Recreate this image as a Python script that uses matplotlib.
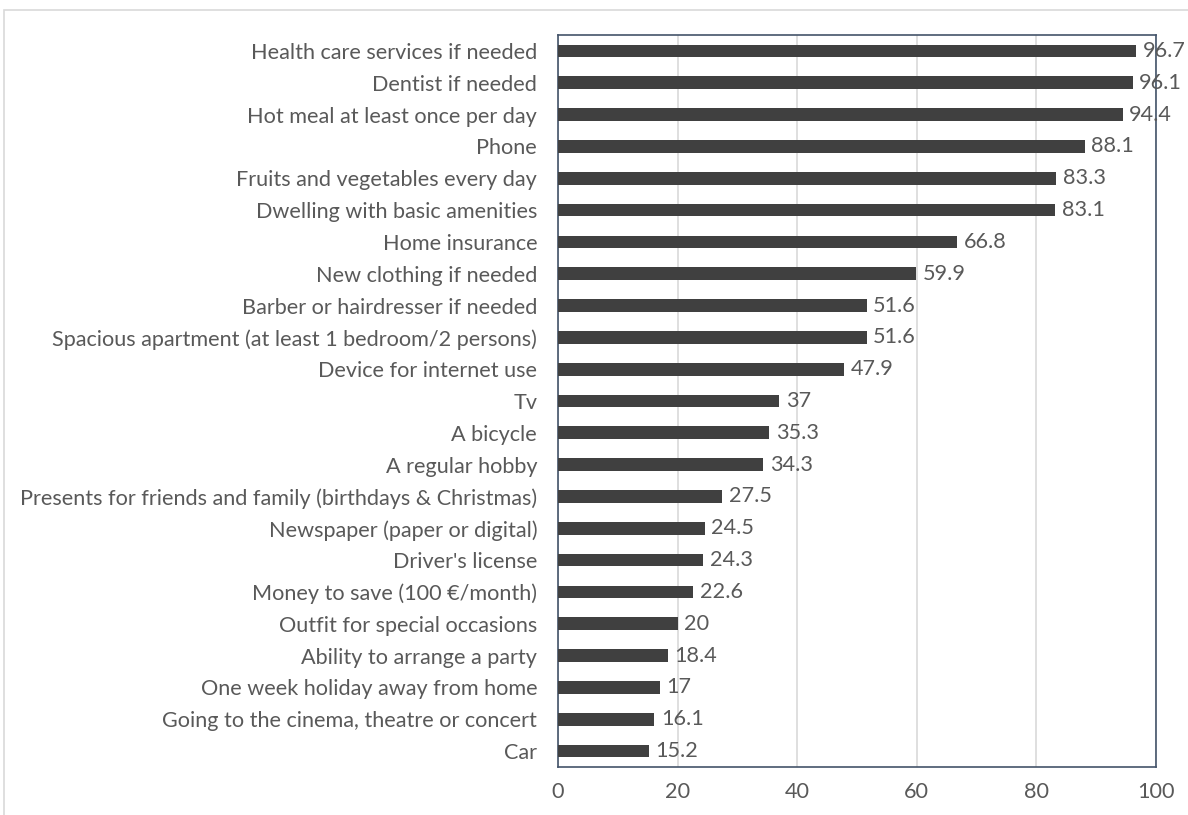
import matplotlib.pyplot as plt
from matplotlib.patches import Rectangle

items = [
    "Health care services if needed",
    "Dentist if needed",
    "Hot meal at least once per day",
    "Phone",
    "Fruits and vegetables every day",
    "Dwelling with basic amenities",
    "Home insurance",
    "New clothing if needed",
    "Barber or hairdresser if needed",
    "Spacious apartment (at least 1 bedroom/2 persons)",
    "Device for internet use",
    "Tv",
    "A bicycle",
    "A regular hobby",
    "Presents for friends and family (birthdays & Christmas)",
    "Newspaper (paper or digital)",
    "Driver's license",
    "Money to save (100 \u20ac/month)",
    "Outfit for special occasions",
    "Ability to arrange a party",
    "One week holiday away from home",
    "Going to the cinema, theatre or concert",
    "Car",
]
values = [96.7, 96.1, 94.4, 88.1, 83.3, 83.1, 66.8, 59.9, 51.6, 51.6, 47.9,
          37, 35.3, 34.3, 27.5, 24.5, 24.3, 22.6, 20, 18.4, 17, 16.1, 15.2]
value_labels = ["96.7", "96.1", "94.4", "88.1", "83.3", "83.1", "66.8", "59.9",
                "51.6", "51.6", "47.9", "37", "35.3", "34.3", "27.5", "24.5",
                "24.3", "22.6", "20", "18.4", "17", "16.1", "15.2"]
xticks = [0, 20, 40, 60, 80, 100]

plt.rcParams['font.family'] = ['Lato', 'DejaVu Sans']
txt = '#595959'
fs = 15.6

fig = plt.figure(figsize=(11.88, 8.15), dpi=100)
# light outer frame of the figure box
fig.patches.append(Rectangle((4 / 1188, -0.01), 1.0, 1 - 10 / 815 + 0.01,
                             transform=fig.transFigure, fill=False,
                             edgecolor='#d9d9d9', linewidth=1.2))

ax = fig.add_axes([558 / 1188, 1 - 767 / 815, (1156 - 558) / 1188, (767 - 35) / 815])
ypos = list(range(len(items)))
ax.barh(ypos, values, height=0.4, color='#404040', zorder=3)
for y, v, lab in zip(ypos, values, value_labels):
    ax.text(v + 1.1, y, lab, va='center', ha='left', fontsize=fs, color=txt, zorder=4)

ax.set_ylim(len(items) - 0.5, -0.5)
ax.set_xlim(0, 100)
ax.set_yticks(ypos)
ax.set_yticklabels(items, fontsize=fs, color=txt)
ax.set_xticks(xticks)
ax.set_xticklabels([str(t) for t in xticks], fontsize=fs, color=txt)
ax.tick_params(axis='both', length=0)
ax.tick_params(axis='y', pad=15)
ax.tick_params(axis='x', pad=11)
ax.grid(axis='x', color='#d9d9d9', linewidth=1.2, zorder=0)
for s in ax.spines.values():
    s.set_color('#44546a')
    s.set_linewidth(1.2)

fig.savefig('out.png', dpi=100)
